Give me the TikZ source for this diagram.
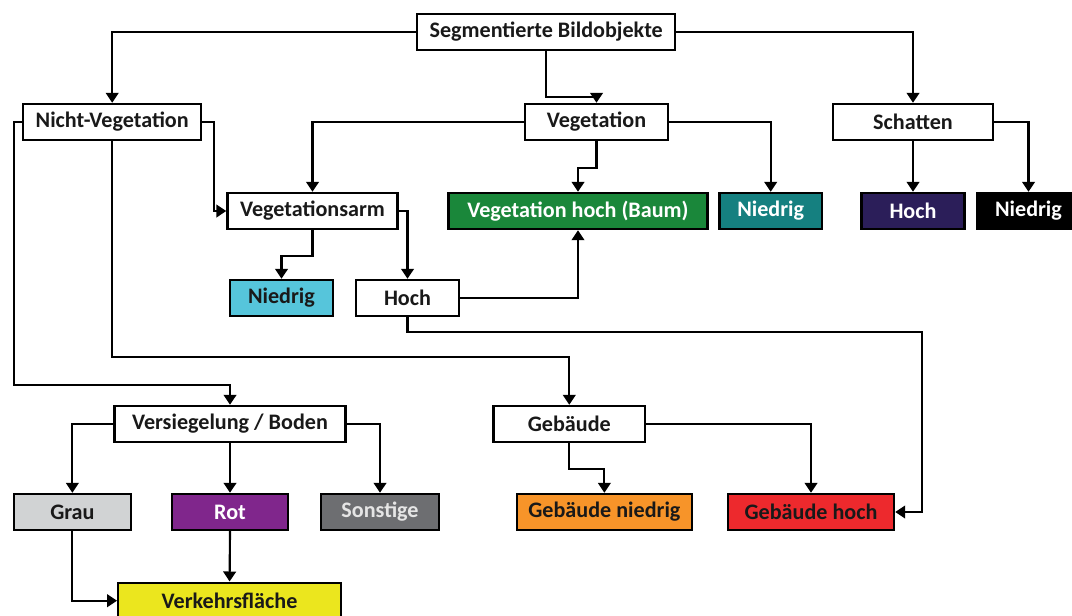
\documentclass[tikz,border=0pt]{standalone}
\usepackage{fontspec}
\setmainfont{Carlito}
\usetikzlibrary{arrows.meta}
\definecolor{baum}{RGB}{26,135,58}
\definecolor{teal2}{RGB}{21,128,128}
\definecolor{nacht}{RGB}{43,30,89}
\definecolor{hellblau}{RGB}{86,197,219}
\definecolor{grau}{RGB}{209,211,212}
\definecolor{rot}{RGB}{128,38,140}
\definecolor{sonst}{RGB}{109,110,113}
\definecolor{orange2}{RGB}{247,148,41}
\definecolor{rot2}{RGB}{237,41,45}
\definecolor{gelb}{RGB}{235,230,30}

\begin{document}
\begin{tikzpicture}[x=0.75pt,y=-0.75pt,
        box/.style={draw, line width=1.8pt, fill=white, inner sep=0pt, minimum height=27pt, font=\fontsize{16.6}{19}\selectfont\bfseries, text=black!90},
        wbox/.style={box, text=white},
        arr/.style={line width=1.6pt, -{Triangle[width=9.5pt,length=7.5pt]}}]
    \useasboundingbox (0,0) rectangle (1072,615);
    \node[box, minimum width=193.5pt] (seg) at (546.2,32) {Segmentierte Bildobjekte};
    \node[box, minimum width=133.5pt] (nv) at (112.2,122) {Nicht-Vegetation};
    \node[box, minimum width=107pt] (veg) at (596.5,122) {Vegetation};
    \node[box, minimum width=120pt] (sch) at (913,122) {Schatten};
    \node[box, minimum width=127.5pt] (varm) at (312.5,211) {Vegetationsarm};
    \node[wbox, fill=baum, minimum width=194pt] (vhoch) at (578,211) {Vegetation hoch (Baum)};
    \node[wbox, fill=teal2, minimum width=77pt] (vnied) at (770.7,211) {Niedrig};
    \node[wbox, fill=nacht, minimum width=77pt] (shoch) at (913,211) {Hoch};
    \node[wbox, fill=black, minimum width=77pt] (snied) at (1028.5,211) {Niedrig};
    \node[box, fill=hellblau, minimum width=77pt] (anied) at (281.5,298) {Niedrig};
    \node[box, minimum width=77pt] (ahoch) at (407.5,298) {Hoch};
    \node[box, minimum width=173pt] (vers) at (230,424) {Versiegelung / Boden};
    \node[box, minimum width=113.5pt] (geb) at (569.3,424) {Gebäude};
    \node[box, fill=grau, minimum width=88pt] (grau) at (72.4,512) {Grau};
    \node[wbox, fill=rot, minimum width=87pt] (rot) at (230,512) {Rot};
    \node[wbox, fill=sonst, text=black!10, minimum width=88.5pt] (sonst) at (380,512) {Sonstige};
    \node[box, fill=orange2, minimum width=131pt] (gnied) at (604.4,512) {Gebäude niedrig};
    \node[box, fill=rot2, minimum width=124.5pt] (ghoch) at (811,512) {Gebäude hoch};
    \node[box, fill=gelb, minimum width=167pt] (verk) at (229.6,600.7) {Verkehrsfläche};
    \coordinate (knick) at (922,332);

    \draw[arr] (seg.west) -| (nv.north); \draw[arr] (seg.south) -- ++(0,46) -| (veg.north); \draw[arr] (seg.east) -| (sch.north);
    \draw[arr] (nv.east) -- ++(12,0) |- (varm.west); \draw[arr] (nv.west) -- ++(-8,0) -- ++(0,263) -| (vers.north); \draw[arr] (nv.south) -- ++(0,216) -| (geb.north);
    \draw[arr] (veg.west) -| (varm.north); \draw[arr] (veg.south) -- ++(0,27) -| (vhoch.north); \draw[arr] (veg.east) -| (vnied.north);
    \draw[arr] (sch.south) -- (shoch.north); \draw[arr] (sch.east) -| (snied.north);
    \draw[arr] (varm.south) -- ++(0,26) -| (anied.north); \draw[arr] (varm.east) -| (ahoch.north);
    \draw[arr] (ahoch.east) -| (vhoch.south); \draw[arr] (ahoch.south) |- (knick) |- (ghoch.east);
    \draw[arr] (vers.west) -| (grau.north); \draw[arr] (vers.south) -- (rot.north); \draw[arr] (vers.east) -| (sonst.north);
    \draw[arr] (geb.south) -- ++(0,26) -| (gnied.north); \draw[arr] (geb.east) -| (ghoch.north);
    \draw[arr] (grau.south) |- (verk.west); \draw[arr] (rot.south) -- (verk.north);
\end{tikzpicture}
\end{document}
